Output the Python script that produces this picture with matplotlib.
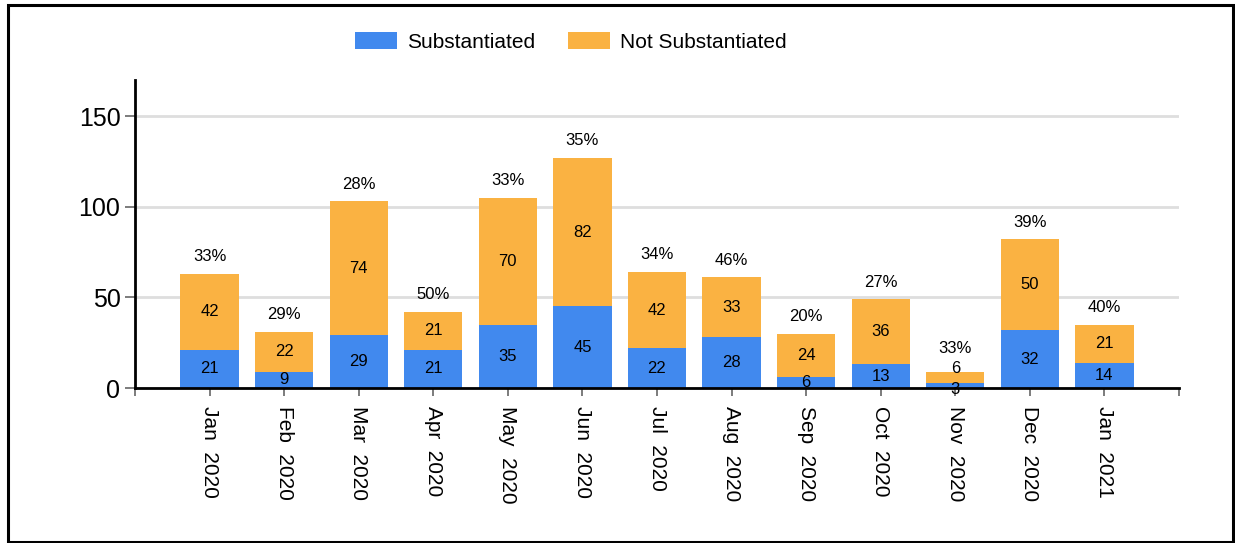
import numpy as np
import matplotlib.pyplot as plt
from matplotlib.patches import Rectangle

plt.rcParams['font.family'] = ['Liberation Sans', 'DejaVu Sans']

months = ["Jan  2020", "Feb  2020", "Mar  2020", "Apr  2020", "May  2020", "Jun  2020",
          "Jul  2020", "Aug  2020", "Sep  2020", "Oct  2020", "Nov  2020", "Dec  2020",
          "Jan  2021"]
substantiated = [21, 9, 29, 21, 35, 45, 22, 28, 6, 13, 3, 32, 14]
not_substantiated = [42, 22, 74, 21, 70, 82, 42, 33, 24, 36, 6, 50, 21]
percent_labels = ["33%", "29%", "28%", "50%", "33%", "35%", "34%", "46%", "20%",
                  "27%", "33%", "39%", "40%"]

blue = "#4189ee"
orange = "#fab242"

fig = plt.figure(figsize=(12.35, 5.43), dpi=100)
ax = fig.add_axes([135 / 1235, 155 / 543, (1179 - 135) / 1235, (463 - 155) / 543])

x = np.arange(len(months))
sub = np.array(substantiated)
nsub = np.array(not_substantiated)

b1 = ax.bar(x, sub, width=0.78, color=blue, label="Substantiated", zorder=2)
b2 = ax.bar(x, nsub, width=0.78, bottom=sub, color=orange, label="Not Substantiated", zorder=2)
lab1 = ax.bar_label(b1, label_type="center", fontsize=12)
lab2 = ax.bar_label(b2, label_type="center", fontsize=12)

# tiny Nov bar: labels sit on top of each other in the original, nudge them apart a bit
nov = months.index("Nov  2020")
lab2[nov].xyann = (0, 6)
lab1[nov].xyann = (0, -3)

for i, (xi, total, p) in enumerate(zip(x, sub + nsub, percent_labels)):
    dy = 11 if i == nov else 7
    ax.annotate(p, (xi, total), xytext=(0, dy), textcoords="offset points",
                ha="center", va="bottom", fontsize=12)

ax.set_xlim(-1, 13)
ax.set_ylim(0, 170)
ax.set_yticks([0, 50, 100, 150])
ax.set_xticks(np.arange(-1, 14))
ax.set_xticklabels([""] + months + [""], rotation=-90, fontsize=15)
ax.tick_params(axis="y", labelsize=18, length=7, color="#666666", width=1.2)
ax.tick_params(axis="x", length=6, color="#666666", width=1.2, pad=7)
ax.yaxis.grid(True, color="#dedede", linewidth=2, zorder=0)
ax.set_axisbelow(True)
for s in ["top", "right"]:
    ax.spines[s].set_visible(False)
for s in ["left", "bottom"]:
    ax.spines[s].set_linewidth(2)
    ax.spines[s].set_zorder(3)

fig.legend(handles=[b1, b2], loc="center", bbox_to_anchor=(571 / 1235, 1 - 42 / 543),
           ncol=2, frameon=False, fontsize=15, handlelength=2.0, handleheight=0.9,
           columnspacing=1.6, handletextpad=0.5)

# outer frame
fig.patches.append(Rectangle((8 / 1235, 1 / 543), 1225 / 1235, 537 / 543,
                             transform=fig.transFigure, fill=False,
                             edgecolor="black", linewidth=2.2))

fig.savefig("out.png", dpi=100)
